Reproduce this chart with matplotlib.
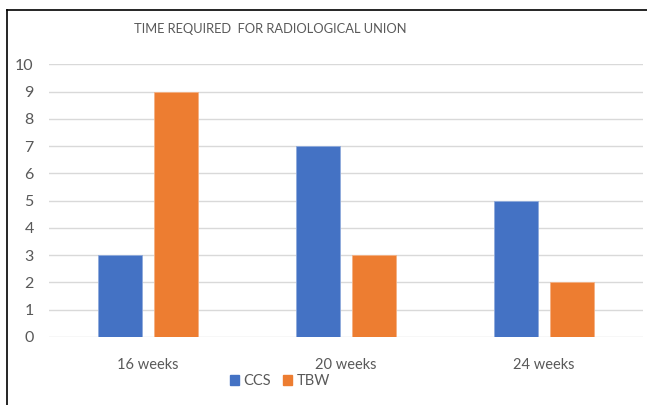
import matplotlib.pyplot as plt
import numpy as np
from matplotlib.lines import Line2D

# donnees du graphique
categories = ['16 weeks', '20 weeks', '24 weeks']
ccs = [3, 7, 5]
tbw = [9, 3, 2]
series_names = ['CCS', 'TBW']
yticks = list(range(0, 11))

blue = '#4472C4'
orange = '#ED7D31'
grey = '#595959'

plt.rcParams['font.family'] = ['Lato', 'DejaVu Sans']

fig = plt.figure(figsize=(6.47, 4.05), dpi=100)
ax = fig.add_axes([49 / 647, 1 - 337 / 405, (643 - 49) / 647, (337 - 64.3) / 405])

x = np.arange(len(categories))
w = 0.222
off = 0.142
ax.bar(x - off, ccs, w, color=blue, edgecolor='#8FAADC', linewidth=0.6, label=series_names[0], zorder=3)
ax.bar(x + off, tbw, w, color=orange, edgecolor='#F4B183', linewidth=0.6, label=series_names[1], zorder=3)

ax.set_xlim(-0.5, len(categories) - 0.5)
ax.set_ylim(0, 10)
ax.set_yticks(yticks)
ax.set_xticks(x)
ax.set_xticklabels(categories)
ax.grid(axis='y', color='#D9D9D9', linewidth=1, zorder=0)
for s in ax.spines.values():
    s.set_visible(False)
ax.tick_params(axis='y', length=0, colors=grey, labelsize=11.5, pad=11)
ax.tick_params(axis='x', length=0, colors=grey, labelsize=10.5, pad=15)

# titre
fig.text(270 / 647, 1 - 29 / 405, 'TIME REQUIRED  FOR RADIOLOGICAL UNION', ha='center', va='center',
         fontsize=9.3, color=grey)

# legende
handles = [plt.Rectangle((0, 0), 1, 1, color=blue), plt.Rectangle((0, 0), 1, 1, color=orange)]
fig.legend(handles, series_names, loc='center', bbox_to_anchor=(280 / 647, 1 - 381 / 405), ncol=2,
           frameon=False, fontsize=10.5, labelcolor=grey, handlelength=0.65, handleheight=0.65,
           handletextpad=0.3, columnspacing=0.8)

# cadre
fig.add_artist(Line2D([7 / 647, 7 / 647], [0, 1 - 9.5 / 405], color='black', linewidth=1.2))
fig.add_artist(Line2D([7 / 647, 1], [1 - 9.5 / 405, 1 - 9.5 / 405], color='black', linewidth=1.2))

fig.savefig('out.png', dpi=100)
